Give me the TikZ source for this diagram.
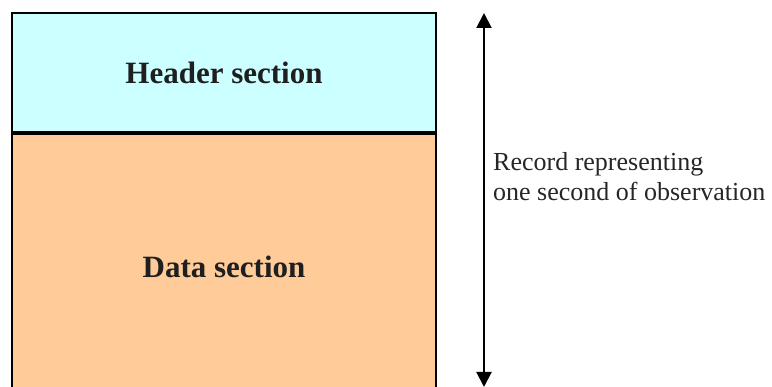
\documentclass[tikz,border=0pt]{standalone}
\usepackage{fontspec}
\setmainfont{Liberation Serif}
\usetikzlibrary{arrows.meta}
\definecolor{hdrfill}{HTML}{CCFFFF}
\definecolor{datfill}{HTML}{FFCC99}
\tikzset{
  section/.style={draw=black, line width=2.2pt, minimum width=424pt, inner sep=0pt,
    font=\fontsize{31}{36}\selectfont\bfseries, text=black!88},
  span/.style={line width=2pt, {Triangle[length=15pt,width=15pt]}-{Triangle[length=15pt,width=15pt]}},
  note/.style={font=\fontsize{26}{30}\selectfont, align=left, inner sep=0pt, text=black!85}
}
\begin{document}
\begin{tikzpicture}[x=1pt,y=-1pt]
\useasboundingbox (0,0) rectangle (772,387);
\clip (0,0) rectangle (772,387);
\node[section, fill=hdrfill, minimum height=119pt] (hdr) at (224,72.5) {\raisebox{-3pt}{Header section}};
\node[section, fill=datfill, minimum height=270pt, anchor=north] (dat) at (hdr.south) {\raisebox{5pt}{Data section}};
\coordinate (top) at (484,13);
\coordinate (bot) at (484,387);
\draw[span] (top) -- (bot);
\node[note, anchor=base west] (rec) at (493,201) {Record representing\\one second of observation};
\end{tikzpicture}
\end{document}
